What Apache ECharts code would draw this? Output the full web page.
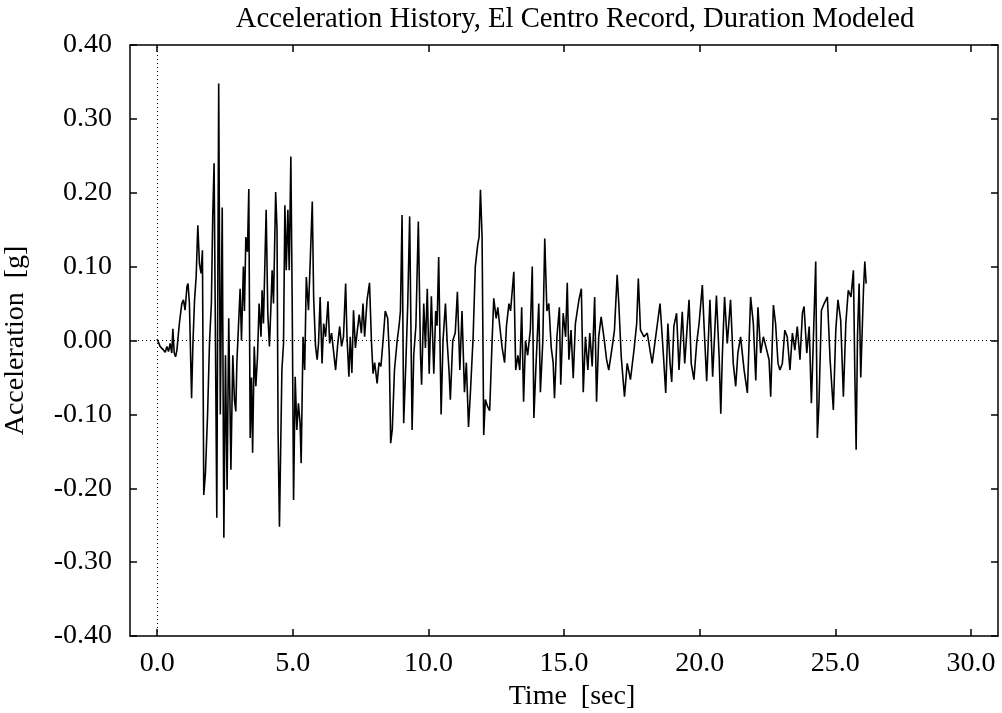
<!DOCTYPE html>
<html lang="en">
<head>
    <meta charset="UTF-8">
    <title>Acceleration History</title>
    <script src="https://cdn.jsdelivr.net/npm/echarts@6/dist/echarts.min.js"></script>
    <style>
        html, body { margin: 0; padding: 0; background: #fff; }
        #main { width: 1002px; height: 713px; }
    </style>
</head>
<body>
    <div id="main"></div>
</body>
<script>
// time [sec] and acceleration [g]
var times = [
    0.00,0.11,0.21,0.30,0.36,0.42,0.48,0.54,0.58,0.63,
    0.68,0.73,0.82,0.91,0.97,1.03,1.10,1.14,1.19,1.27,
    1.32,1.38,1.44,1.50,1.56,1.62,1.67,1.72,1.78,1.86,
    1.93,2.00,2.05,2.10,2.14,2.20,2.27,2.33,2.40,2.46,
    2.52,2.58,2.64,2.72,2.79,2.85,2.90,2.94,3.00,3.06,
    3.11,3.18,3.22,3.27,3.33,3.38,3.43,3.48,3.52,3.58,
    3.64,3.70,3.76,3.83,3.87,3.92,4.02,4.08,4.14,4.19,
    4.24,4.29,4.37,4.42,4.46,4.51,4.60,4.66,4.71,4.76,
    4.82,4.87,4.93,4.98,5.03,5.09,5.15,5.21,5.27,5.31,
    5.38,5.44,5.50,5.58,5.65,5.72,5.77,5.84,5.90,5.95,
    6.01,6.08,6.14,6.21,6.30,6.36,6.43,6.50,6.58,6.66,
    6.73,6.80,6.87,6.95,7.00,7.07,7.12,7.18,7.24,7.31,
    7.37,7.45,7.53,7.59,7.65,7.74,7.83,7.90,7.96,8.02,
    8.11,8.18,8.25,8.33,8.41,8.50,8.56,8.61,8.67,8.75,
    8.85,8.92,8.97,9.03,9.09,9.17,9.24,9.31,9.40,9.46,
    9.54,9.63,9.71,9.75,9.83,9.89,9.96,10.03,10.11,10.20,
    10.27,10.32,10.38,10.47,10.54,10.63,10.69,10.76,10.81,10.90,
    10.99,11.07,11.16,11.24,11.33,11.40,11.48,11.55,11.65,11.73,
    11.82,11.87,11.92,11.98,12.04,12.10,12.19,12.26,12.34,12.41,
    12.50,12.56,12.63,12.72,12.81,12.88,12.97,13.03,13.15,13.22,
    13.30,13.37,13.44,13.51,13.58,13.66,13.76,13.83,13.89,13.96,
    14.07,14.13,14.22,14.29,14.37,14.44,14.53,14.60,14.65,14.74,
    14.83,14.88,14.97,15.06,15.12,15.18,15.26,15.34,15.42,15.55,
    15.64,15.71,15.79,15.88,15.95,16.04,16.13,16.20,16.28,16.37,
    16.47,16.57,16.65,16.78,16.86,16.96,17.02,17.11,17.23,17.33,
    17.45,17.58,17.68,17.74,17.82,17.95,18.07,18.25,18.38,18.54,
    18.66,18.75,18.83,18.91,18.97,19.05,19.15,19.24,19.36,19.45,
    19.61,19.69,19.79,19.89,19.98,20.10,20.16,20.26,20.38,20.48,
    20.62,20.72,20.78,20.84,20.92,21.02,21.14,21.24,21.33,21.41,
    21.51,21.64,21.76,21.88,21.98,22.07,22.15,22.25,22.35,22.44,
    22.56,22.62,22.72,22.80,22.89,22.96,23.05,23.14,23.23,23.33,
    23.42,23.51,23.60,23.70,23.79,23.85,23.95,24.04,24.12,24.20,
    24.28,24.34,24.40,24.49,24.59,24.71,24.81,24.93,25.02,25.10,
    25.20,25.30,25.39,25.48,25.58,25.67,25.72,25.77,25.82,25.88,
    25.94,26.04,26.09,26.14
];
var accel = [
    0.002,-0.008,-0.012,-0.016,-0.008,-0.015,-0.004,-0.017,0.016,-0.017,
    -0.022,-0.013,0.023,0.050,0.055,0.041,0.073,0.077,0.050,-0.078,
    -0.004,0.055,0.087,0.156,0.104,0.091,0.122,-0.209,-0.180,-0.100,
    -0.004,0.050,0.168,0.240,0.050,-0.240,0.348,-0.100,0.180,-0.267,
    -0.020,-0.202,0.030,-0.175,-0.020,-0.080,-0.096,-0.030,0.020,0.070,
    0.000,0.100,0.040,0.140,0.120,0.205,-0.132,-0.050,-0.152,-0.008,
    -0.062,-0.022,0.050,0.005,0.068,0.023,0.177,0.037,-0.008,0.041,
    0.095,0.050,0.201,0.150,-0.126,-0.252,-0.040,-0.004,0.183,0.095,
    0.177,0.095,0.249,0.050,-0.216,-0.049,-0.121,-0.085,-0.112,-0.166,
    0.005,-0.040,0.086,0.041,0.113,0.188,0.059,-0.008,-0.026,-0.004,
    0.059,-0.031,0.023,0.005,0.053,-0.004,0.010,-0.013,-0.040,-0.004,
    0.019,-0.008,0.005,0.077,0.005,-0.049,0.005,-0.044,0.041,-0.010,
    0.010,0.035,0.010,0.050,0.005,0.055,0.078,0.000,-0.045,-0.030,
    -0.058,-0.030,-0.035,0.000,0.040,0.030,-0.020,-0.139,-0.120,-0.040,
    0.000,0.020,0.040,0.170,-0.112,-0.030,0.050,0.168,-0.121,-0.020,
    0.020,0.161,-0.020,-0.060,0.050,-0.010,0.070,-0.045,0.060,-0.045,
    0.040,0.020,0.113,-0.100,0.000,0.050,0.000,-0.040,-0.080,0.000,
    0.010,0.066,-0.040,0.040,-0.070,-0.030,-0.117,-0.070,0.005,0.100,
    0.130,0.140,0.204,0.140,-0.128,-0.080,-0.090,-0.095,-0.010,0.057,
    0.030,0.045,0.020,-0.010,-0.030,0.020,0.050,0.040,0.093,-0.040,
    -0.020,-0.040,0.045,-0.083,0.000,-0.020,0.015,0.100,-0.105,-0.040,
    0.050,-0.070,0.000,0.138,0.040,0.050,-0.010,-0.030,-0.078,0.005,
    0.045,-0.060,0.037,0.005,0.078,-0.026,0.014,-0.051,0.023,0.055,
    0.070,-0.070,0.005,-0.040,0.010,-0.035,0.059,-0.083,0.005,0.032,
    0.005,-0.026,-0.040,-0.008,0.014,0.089,0.050,-0.022,-0.076,-0.031,
    -0.053,-0.013,0.023,0.084,0.014,0.005,0.010,-0.031,0.005,0.050,
    -0.017,-0.071,0.023,-0.031,-0.056,0.019,0.037,-0.040,0.039,-0.031,
    0.055,-0.031,-0.053,-0.004,0.023,0.075,0.023,-0.055,0.055,-0.049,
    0.061,-0.022,-0.099,-0.017,0.059,-0.004,0.055,-0.031,-0.062,-0.017,
    0.005,-0.040,-0.071,0.059,0.023,-0.054,0.045,-0.017,0.005,-0.008,
    -0.026,-0.076,0.048,0.023,-0.031,-0.040,-0.031,0.014,0.005,-0.040,
    0.010,-0.013,0.019,-0.026,0.037,0.046,-0.017,0.019,-0.085,0.010,
    0.107,-0.132,-0.085,0.041,0.050,0.059,-0.026,-0.094,0.014,0.055,
    0.028,-0.076,0.023,0.068,0.059,0.095,-0.040,-0.148,0.005,0.077,
    -0.050,0.068,0.107,0.077
];
var xTicks = [0, 5, 10, 15, 20, 25, 30];

var serif = 'Liberation Serif';

// pair up time / acceleration
var trace = [];
for (var i = 0; i < times.length; i++) {
    trace.push([times[i], accel[i]]);
}

var chart = echarts.init(document.getElementById('main'));
chart.setOption({
    backgroundColor: '#ffffff',
    animation: false,
    title: {
        text: 'Acceleration History, El Centro Record, Duration Modeled',
        left: 570,
        textAlign: 'center',
        top: 0,
        textStyle: { fontFamily: serif, fontSize: 28.7, fontWeight: 'normal', color: '#000' }
    },
    grid: { left: 130, right: 4, top: 45, bottom: 77, outerBoundsMode: 'none' },
    xAxis: [
        {
            type: 'value',
            min: -1,
            max: 31,
            name: 'Time  [sec]',
            nameLocation: 'middle',
            nameGap: 41,
            nameTextStyle: { fontFamily: serif, fontSize: 28, color: '#000', padding: [0, 0, 0, 16] },
            axisLine: { onZero: false, lineStyle: { color: '#000', width: 1.5 } },
            axisTick: { inside: true, length: 7, customValues: xTicks, lineStyle: { color: '#000', width: 1.5 } },
            axisLabel: {
                customValues: xTicks,
                margin: 14,
                fontFamily: serif, fontSize: 28, color: '#000',
                formatter: function (v) { return v.toFixed(1); }
            },
            splitLine: { show: false }
        },
        {
            type: 'value',
            position: 'top',
            min: -1,
            max: 31,
            axisLine: { onZero: false, lineStyle: { color: '#000', width: 1.5 } },
            axisTick: { inside: true, length: 7, customValues: xTicks, lineStyle: { color: '#000', width: 1.5 } },
            axisLabel: { show: false },
            splitLine: { show: false }
        }
    ],
    yAxis: [
        {
            type: 'value',
            min: -0.4,
            max: 0.4,
            interval: 0.1,
            name: 'Acceleration  [g]',
            nameLocation: 'middle',
            nameGap: 100,
            nameTextStyle: { fontFamily: serif, fontSize: 28, color: '#000' },
            axisLine: { show: true, onZero: false, lineStyle: { color: '#000', width: 1.5 } },
            axisTick: { show: true, inside: true, length: 7, lineStyle: { color: '#000', width: 1.5 } },
            axisLabel: {
                margin: 18,
                fontFamily: serif, fontSize: 28, color: '#000',
                formatter: function (v) { return v.toFixed(2); }
            },
            splitLine: { show: false }
        },
        {
            type: 'value',
            position: 'right',
            min: -0.4,
            max: 0.4,
            interval: 0.1,
            axisLine: { show: true, onZero: false, lineStyle: { color: '#000', width: 1.5 } },
            axisTick: { show: true, inside: true, length: 7, lineStyle: { color: '#000', width: 1.5 } },
            axisLabel: { show: false },
            splitLine: { show: false }
        }
    ],
    series: [
        {
            name: 'Acceleration',
            type: 'line',
            data: trace,
            showSymbol: false,
            symbol: 'none',
            lineStyle: { color: '#000', width: 1.6 },
            markLine: {
                silent: true,
                symbol: 'none',
                label: { show: false },
                lineStyle: { color: '#000', type: [1, 3], width: 1 },
                data: [{ xAxis: 0 }, { yAxis: 0 }]
            },
            z: 3
        }
    ]
});
</script>
</html>
